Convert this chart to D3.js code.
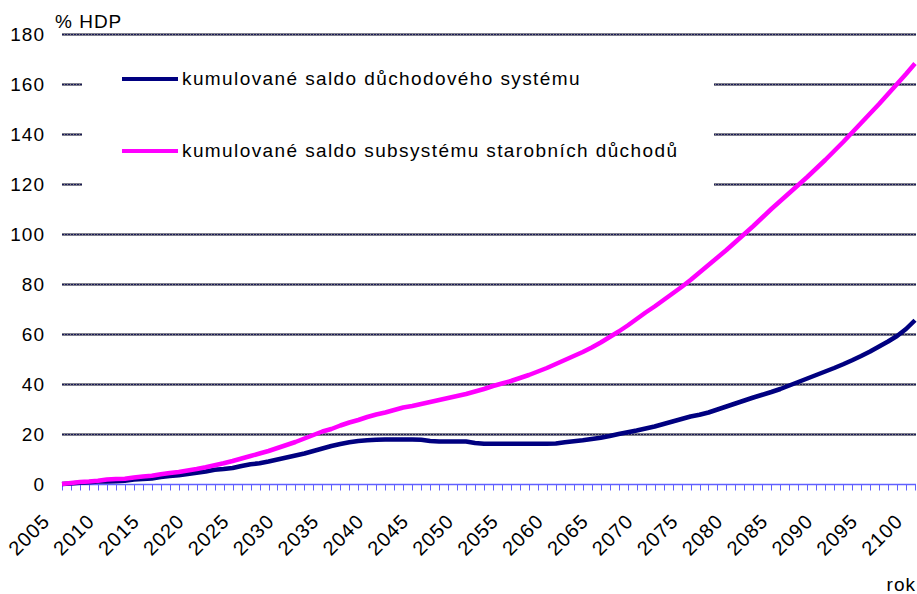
<!DOCTYPE html>
<html>
<head>
<meta charset="utf-8">
<script src="https://cdn.jsdelivr.net/npm/d3@7"></script>
<style>
  body { margin: 0; background: #fff; }
  text { font-family: Arial, "Liberation Sans", sans-serif; font-size: 19px; letter-spacing: 1px; fill: #000; }
  .legend-text { letter-spacing: 1.4px; }
  .x-label { font-size: 20px; }
</style>
</head>
<body>
<div id="chart"></div>
<script>
// data, one value per year
const years = d3.range(2005, 2101);

const saldoSystem = [
  0, 0.2, 0.5, 0.7, 1.0, 1.0, 1.1, 1.3, 1.8, 2.0,
  2.2, 2.8, 3.2, 3.5, 4.0, 4.5, 5.0, 5.7, 6.0, 6.4,
  7.2, 7.9, 8.3, 9.0, 9.8, 10.6, 11.4, 12.2, 13.2, 14.2,
  15.2, 16.0, 16.7, 17.2, 17.5, 17.7, 17.8, 17.8, 17.8, 17.8,
  17.7, 17.2, 17.0, 17.0, 17.0, 17.0, 16.4, 16.1, 16.1, 16.1,
  16.1, 16.1, 16.1, 16.1, 16.1, 16.2, 16.7, 17.1, 17.5, 18.0,
  18.5, 19.2, 20.0, 20.7, 21.4, 22.2, 23.0, 24.0, 25.0, 26.0,
  27.0, 27.7, 28.6, 29.8, 31.0, 32.2, 33.4, 34.6, 35.7, 36.8,
  38.0, 39.4, 40.8, 42.2, 43.6, 45.0, 46.4, 47.9, 49.5, 51.2,
  53.0, 55.0, 57.0, 59.2, 62.0, 65.5
];

const saldoStarobni = [
  0, 0.4, 0.8, 1.0, 1.3, 1.8, 2.0, 2.1, 2.6, 3.0,
  3.3, 3.9, 4.4, 4.8, 5.4, 6.0, 6.7, 7.5, 8.3, 9.2,
  10.2, 11.2, 12.2, 13.2, 14.4, 15.6, 16.8, 18.2, 19.6, 21.0,
  22.0, 23.4, 24.6, 25.6, 26.8, 27.8, 28.6, 29.6, 30.6, 31.2,
  32.0, 32.8, 33.6, 34.4, 35.2, 36.0, 37.0, 38.0, 39.2, 40.2,
  41.2, 42.4, 43.6, 45.0, 46.4, 48.0, 49.6, 51.2, 52.8, 54.6,
  56.6, 58.8, 61.0, 63.4, 66.0, 68.6, 71.0, 73.6, 76.2, 78.8,
  81.6, 84.6, 87.6, 90.6, 93.6, 96.8, 100.0, 103.2, 106.6, 110.0,
  113.2, 116.4, 119.6, 122.8, 126.2, 129.6, 133.2, 136.8, 140.6, 144.4,
  148.2, 152.0, 156.0, 160.0, 164.0, 168.2
];

const yTicks = [0, 20, 40, 60, 80, 100, 120, 140, 160, 180];
const xLabelYears = d3.range(2005, 2101, 5);

const seriesNames = [
  'kumulované saldo důchodového systému',
  'kumulované saldo subsystému starobních důchodů'
];
const seriesColors = ['#000080', '#ff00ff'];

// section 1: svg canvas
const svgWidth = 917;
const svgHeight = 594;
const margin = {top: 34, right: 1, bottom: 110, left: 62};
const width = svgWidth - margin.left - margin.right;
const height = svgHeight - margin.top - margin.bottom;

const svg = d3.select('#chart').append('svg')
  .attr('width', svgWidth).attr('height', svgHeight);

const chartGroup = svg.append('g')
  .attr('transform', `translate(${margin.left}, ${margin.top})`);

const xScale = d3.scalePoint().domain(years).range([0, width - 1]);
const yScale = d3.scaleLinear().domain([0, 180]).range([height, 0]);

// gridlines - grey band with a dark dotted core
const grid = chartGroup.append('g').attr('class', 'grid');
yTicks.filter(t => t > 0).forEach(t => {
  const y = Math.round(yScale(t)) + 0.5;
  grid.append('line')
    .attr('x1', 0).attr('x2', width).attr('y1', y).attr('y2', y)
    .attr('stroke', '#80808c').attr('stroke-width', 3);
  grid.append('line')
    .attr('x1', 0).attr('x2', width).attr('y1', y).attr('y2', y)
    .attr('stroke', '#1c1c58').attr('stroke-width', 1)
    .attr('stroke-dasharray', '2,1');
});

// y labels
chartGroup.append('g').selectAll('text')
  .data(yTicks).enter().append('text')
  .attr('x', -17).attr('y', d => yScale(d))
  .attr('dy', '0.36em')
  .attr('text-anchor', 'end')
  .text(d => d);

chartGroup.append('text')
  .attr('x', -7).attr('y', -6)
  .text('% HDP');

// x axis: blue line with a tick on every year
const xAxis = chartGroup.append('g')
  .attr('transform', `translate(0, ${Math.round(height) + 0.5})`);
xAxis.append('line')
  .attr('x1', 0).attr('x2', width).attr('stroke', '#6060ff').attr('stroke-width', 1.5);
xAxis.selectAll('.tick').data(years).enter().append('line')
  .attr('x1', d => Math.round(xScale(d)) + 0.5).attr('x2', d => Math.round(xScale(d)) + 0.5)
  .attr('y1', 0).attr('y2', 6)
  .attr('stroke', '#6060ff').attr('stroke-width', 1);

xAxis.selectAll('.lbl').data(xLabelYears).enter().append('text')
  .attr('class', 'x-label')
  .attr('text-anchor', 'end')
  .attr('transform', d => `translate(${xScale(d) - 11}, 38) rotate(-45)`)
  .text(d => d);

svg.append('text')
  .attr('x', 916).attr('y', 591)
  .attr('text-anchor', 'end')
  .text('rok');

// legend box (white, hides the gridlines behind it)
const legend = chartGroup.append('g');
legend.append('rect')
  .attr('x', 20).attr('y', 20).attr('width', 632).attr('height', 170)
  .attr('fill', '#fff');

const legendRows = [45, 117];
seriesNames.forEach((name, i) => {
  legend.append('line')
    .attr('x1', 60).attr('x2', 116)
    .attr('y1', legendRows[i]).attr('y2', legendRows[i])
    .attr('stroke', seriesColors[i]).attr('stroke-width', 4);
  legend.append('text')
    .attr('class', 'legend-text')
    .attr('x', 120).attr('y', legendRows[i] + 6)
    .text(name);
});

// lines
const line = d3.line()
  .x((d, i) => xScale(years[i]))
  .y(d => yScale(d));

[saldoSystem, saldoStarobni].forEach((series, i) => {
  chartGroup.append('path')
    .datum(series)
    .attr('fill', 'none')
    .attr('stroke', seriesColors[i])
    .attr('stroke-width', 4.5)
    .attr('stroke-linejoin', 'round')
    .attr('d', line);
});
</script>
</body>
</html>
